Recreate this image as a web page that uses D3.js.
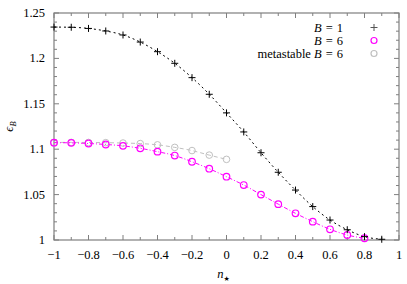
<!DOCTYPE html>
<html>
<head>
<meta charset="utf-8">
<script src="https://cdn.jsdelivr.net/npm/d3@7"></script>
<style>
  body { margin: 0; background: #fff; }
</style>
</head>
<body>
<div id="chart"></div>
<script>
// n_star values and energies
var nB1 = [-1, -0.9, -0.8, -0.7, -0.6, -0.5, -0.4, -0.3, -0.2, -0.1, 0, 0.1, 0.2, 0.3, 0.4, 0.5, 0.6, 0.7, 0.8, 0.9];
var epsB1 = [1.2345, 1.2343, 1.2330, 1.2302, 1.2258, 1.2180, 1.2074, 1.1946, 1.1788, 1.1605, 1.1400, 1.1190, 1.0961, 1.0746, 1.0550, 1.0368, 1.0220, 1.0113, 1.0037, 1.0008];

var nB6 = [-1, -0.9, -0.8, -0.7, -0.6, -0.5, -0.4, -0.3, -0.2, -0.1, 0, 0.1, 0.2, 0.3, 0.4, 0.5, 0.6, 0.7, 0.8];
var epsB6 = [1.1072, 1.1070, 1.1063, 1.1052, 1.1037, 1.1010, 1.0973, 1.0930, 1.0862, 1.0785, 1.0697, 1.0605, 1.0500, 1.0395, 1.0294, 1.0202, 1.0118, 1.0055, 1.0019];

var nMeta = [-1, -0.9, -0.8, -0.7, -0.6, -0.5, -0.4, -0.3, -0.2, -0.1, 0];
var epsMeta = [1.1075, 1.1075, 1.1074, 1.1072, 1.1068, 1.1062, 1.1048, 1.1020, 1.0985, 1.0935, 1.0888];

var xTicks = [-1, -0.8, -0.6, -0.4, -0.2, 0, 0.2, 0.4, 0.6, 0.8, 1];
var yTicks = [1, 1.05, 1.1, 1.15, 1.2, 1.25];

var legendPre = ['', '', 'metastable '];
var legendVal = ['1', '6', '6'];
var legendKind = ['cross', 'magenta', 'gray'];

var width = 407, height = 284;
var margin = {top: 13, right: 8, bottom: 44, left: 54};
var FONT = 'Liberation Serif';

var svg = d3.select('#chart').append('svg')
  .attr('width', width)
  .attr('height', height);

var x = d3.scaleLinear().domain([-1, 1]).range([margin.left, width - margin.right]);
var y = d3.scaleLinear().domain([1, 1.25]).range([height - margin.bottom, margin.top]);

var axisColor = '#7f7f7f';
var fmt = function (d) { return d3.format('')(d).replace('-', '\u2212'); };

function label(px, py, anchor) {
  return svg.append('text')
    .attr('x', px).attr('y', py)
    .attr('text-anchor', anchor)
    .attr('font-family', FONT)
    .attr('font-size', 12.5)
    .attr('fill', '#000');
}

// ticks, drawn inward and mirrored on the opposite side
var g = svg.append('g');
var xMinor = d3.range(-10, 11).map(function (i) { return i / 10; });
var yMinor = d3.range(0, 26).map(function (i) { return 1 + i / 100; });

xMinor.forEach(function (t) {
  var major = Math.abs(Math.round(t * 10)) % 2 === 0;
  var len = major ? 5 : 3;
  g.append('line').attr('x1', x(t)).attr('x2', x(t))
    .attr('y1', y.range()[0]).attr('y2', y.range()[0] - len).attr('stroke', axisColor);
  g.append('line').attr('x1', x(t)).attr('x2', x(t))
    .attr('y1', y.range()[1]).attr('y2', y.range()[1] + len).attr('stroke', axisColor);
});
yMinor.forEach(function (t) {
  var major = Math.round((t - 1) * 100) % 5 === 0;
  var len = major ? 5 : 3;
  g.append('line').attr('y1', y(t)).attr('y2', y(t))
    .attr('x1', x.range()[0]).attr('x2', x.range()[0] + len).attr('stroke', axisColor);
  g.append('line').attr('y1', y(t)).attr('y2', y(t))
    .attr('x1', x.range()[1]).attr('x2', x.range()[1] - len).attr('stroke', axisColor);
});

svg.append('rect')
  .attr('x', margin.left).attr('y', margin.top)
  .attr('width', x.range()[1] - x.range()[0])
  .attr('height', y.range()[0] - y.range()[1])
  .attr('fill', 'none').attr('stroke', axisColor).attr('stroke-width', 1.2);

// tick labels
xTicks.forEach(function (d) {
  label(x(d), height - margin.bottom + 19, 'middle').text(fmt(d));
});
yTicks.forEach(function (d) {
  label(margin.left - 9, y(d) + 4, 'end').text(d3.format('')(d));
});

// axis labels
var xl = label(x(0) - 3, 278, 'middle');
xl.append('tspan').attr('font-style', 'italic').text('n');
xl.append('tspan').attr('dy', 3).attr('font-size', 7).attr('font-family', 'DejaVu Sans').text('\u2605');

var yl = svg.append('text')
  .attr('transform', 'translate(13,' + y(1.125) + ') rotate(-90)')
  .attr('text-anchor', 'middle')
  .attr('font-family', FONT)
  .attr('font-size', 12.5);
yl.append('tspan').attr('font-style', 'italic').text('\u03f5');
yl.append('tspan').attr('dy', 3).attr('font-size', 8.5).attr('font-style', 'italic').text('B');

// curves
function series(xs, ys) {
  return xs.map(function (d, i) { return [d, ys[i]]; });
}
var line = d3.line()
  .x(function (d) { return x(d[0]); })
  .y(function (d) { return y(d[1]); })
  .curve(d3.curveMonotoneX);

var sMeta = series(nMeta, epsMeta);
var sB6 = series(nB6, epsB6);
var sB1 = series(nB1, epsB1);

svg.append('path').datum(sMeta).attr('d', line)
  .attr('fill', 'none').attr('stroke', '#c0c0c0').attr('stroke-width', 1)
  .attr('stroke-dasharray', '4,3');
svg.append('path').datum(sB6).attr('d', line)
  .attr('fill', 'none').attr('stroke', '#ff00ff').attr('stroke-width', 1)
  .attr('stroke-dasharray', '4,2,1,2');
svg.append('path').datum(sB1).attr('d', line)
  .attr('fill', 'none').attr('stroke', '#000').attr('stroke-width', 1)
  .attr('stroke-dasharray', '2,3');

// markers
svg.append('g').selectAll('circle').data(sMeta).enter().append('circle')
  .attr('cx', function (d) { return x(d[0]); })
  .attr('cy', function (d) { return y(d[1]); })
  .attr('r', 3.3).attr('fill', 'none').attr('stroke', '#c0c0c0').attr('stroke-width', 1);

svg.append('g').selectAll('circle').data(sB6).enter().append('circle')
  .attr('cx', function (d) { return x(d[0]); })
  .attr('cy', function (d) { return y(d[1]); })
  .attr('r', 3.3).attr('fill', 'none').attr('stroke', '#ff00ff').attr('stroke-width', 1.2);

function cross(sel, cx, cy, col) {
  sel.append('path')
    .attr('d', 'M' + (cx - 3.5) + ',' + cy + 'H' + (cx + 3.5) + 'M' + cx + ',' + (cy - 3.5) + 'V' + (cy + 3.5))
    .attr('stroke', col).attr('stroke-width', 1);
}
var crosses = svg.append('g');
sB1.forEach(function (d) { cross(crosses, x(d[0]), y(d[1]), '#000'); });

// legend
legendVal.forEach(function (val, i) {
  var ly = 27.5 + i * 13;
  var t = label(343, ly + 4, 'end');
  if (legendPre[i]) t.append('tspan').text(legendPre[i]);
  t.append('tspan').attr('font-style', 'italic').text('B');
  t.append('tspan').attr('dx', 4).text('=');
  t.append('tspan').attr('dx', 4).text(val);
  if (legendKind[i] === 'cross') {
    cross(crosses, 374, ly, '#555');
  } else {
    svg.append('circle').attr('cx', 374).attr('cy', ly).attr('r', 3)
      .attr('fill', 'none')
      .attr('stroke', legendKind[i] === 'magenta' ? '#ff00ff' : '#c0c0c0')
      .attr('stroke-width', 1.2);
  }
});
</script>
</body>
</html>
